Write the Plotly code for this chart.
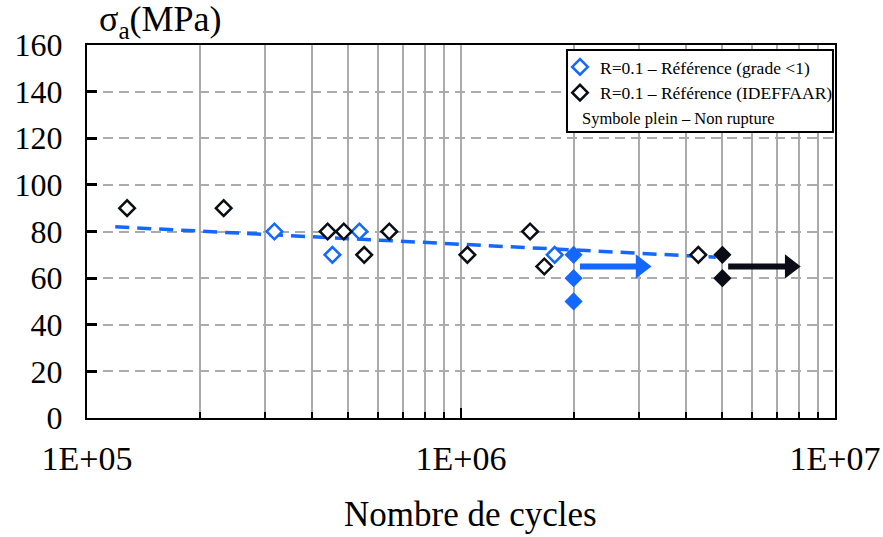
import plotly.graph_objects as go

# Fatigue results, R = 0.1 (number of cycles, stress amplitude in MPa)
grade_N = [3.17e5, 4.53e5, 5.35e5, 1.78e6]
grade_S = [80, 70, 80, 70]
grade_runout_N = [2.0e6, 2.0e6, 2.0e6]
grade_runout_S = [70, 60, 50]

idef_N = [1.28e5, 2.32e5, 4.40e5, 4.86e5, 5.51e5, 6.43e5, 1.04e6, 1.53e6, 1.67e6, 4.31e6]
idef_S = [90, 90, 80, 80, 70, 80, 70, 80, 65, 70]
idef_runout_N = [5.0e6, 5.0e6]
idef_runout_S = [70, 60]

# Trend line (end points)
fit_N = [1.19e5, 4.8e6]
fit_S = [82, 69]

# Run-out arrows: shaft start and arrow head
grade_arrow_N = [2.08e6, 3.03e6]
idef_arrow_N = [5.18e6, 7.59e6]
arrow_S = [65, 65]

x_tickvals = [1e5, 1e6, 1e7]
x_ticktext = ["1E+05", "1E+06", "1E+07"]
y_tickvals = [0, 20, 40, 60, 80, 100, 120, 140, 160]

BLUE = "#1467ff"
BLACK = "#0a0c16"
GRID = "#ababab"
SERIF = "Liberation Serif"

fig = go.Figure()

fig.add_trace(go.Scatter(
    x=fit_N, y=fit_S, mode="lines",
    line=dict(color=BLUE, width=3.5, dash="14px,8px"),
    showlegend=False, hoverinfo="skip"))

for arr_N, col in ((grade_arrow_N, BLUE), (idef_arrow_N, BLACK)):
    # shaft
    fig.add_trace(go.Scatter(
        x=arr_N, y=arrow_S, mode="lines",
        line=dict(color=col, width=6),
        showlegend=False, hoverinfo="skip"))
    # head
    fig.add_trace(go.Scatter(
        x=arr_N[1:], y=arrow_S[1:], mode="markers",
        marker=dict(symbol="triangle-right", size=21, color=col,
                    opacity=1, line=dict(width=0)),
        showlegend=False, hoverinfo="skip"))

fig.add_trace(go.Scatter(
    x=grade_N, y=grade_S, mode="markers",
    name="R=0.1 \u2013 R\u00e9f\u00e9rence (grade <1)",
    marker=dict(symbol="diamond", size=12, color="white",
                line=dict(color=BLUE, width=2.5)),
    legendgroup="a"))
fig.add_trace(go.Scatter(
    x=idef_N, y=idef_S, mode="markers",
    name="R=0.1 \u2013 R\u00e9f\u00e9rence (IDEFFAAR)",
    marker=dict(symbol="diamond", size=12, color="white",
                line=dict(color=BLACK, width=2.5)),
    legendgroup="b"))
fig.add_trace(go.Scatter(
    x=grade_runout_N, y=grade_runout_S, mode="markers",
    marker=dict(symbol="diamond", size=14, color=BLUE, line=dict(width=0)),
    showlegend=False))
fig.add_trace(go.Scatter(
    x=idef_runout_N, y=idef_runout_S, mode="markers",
    marker=dict(symbol="diamond", size=14, color=BLACK, line=dict(width=0)),
    showlegend=False))

fig.update_xaxes(
    type="log", range=[5, 7], automargin=False,
    tickvals=x_tickvals, ticktext=x_ticktext,
    ticks="inside", ticklen=10, tickwidth=2, tickcolor="black",
    tickfont=dict(family=SERIF, size=34, color="black"),
    ticklabelstandoff=9,
    showgrid=True, gridcolor=GRID, gridwidth=1.5,
    minor=dict(dtick="D1", ticks="inside", ticklen=6, tickwidth=2,
               tickcolor="black", showgrid=True, gridcolor=GRID, gridwidth=1.5),
    showline=True, linecolor="black", linewidth=2, mirror=True,
    zeroline=False)

fig.update_yaxes(
    range=[0, 160], tickvals=y_tickvals, automargin=False,
    ticks="inside", ticklen=10, tickwidth=2.5, tickcolor="black",
    tickfont=dict(family=SERIF, size=32, color="black"),
    ticklabelstandoff=16,
    showgrid=True, gridcolor=GRID, gridwidth=1.5, griddash="10px,6px",
    showline=True, linecolor="black", linewidth=2, mirror=True,
    zeroline=False)

# Legend frame
fig.add_shape(type="rect", xref="paper", yref="paper",
              x0=0.6417, x1=0.9973, y0=0.7668, y1=0.9866,
              line=dict(color="black", width=2), fillcolor="white", layer="above")

fig.add_annotation(
    xref="paper", yref="paper", x=0.6590, y=0.804,
    xanchor="left", yanchor="middle", showarrow=False,
    text="Symbole plein \u2013 Non rupture",
    font=dict(family=SERIF, size=16.5, color="black"))

# Axis titles
fig.add_annotation(
    xref="paper", yref="paper", x=0.0134, y=1.062,
    xanchor="left", yanchor="middle", showarrow=False,
    text="\u03c3<sub>a</sub>(MPa)",
    font=dict(family=SERIF, size=36, color="black"))

fig.add_annotation(
    xref="paper", yref="paper", x=(470 - 87) / 748, y=(418 - 514) / 373,
    xanchor="center", yanchor="middle", showarrow=False,
    text="Nombre de cycles",
    font=dict(family=SERIF, size=35, color="black"))

fig.update_layout(
    width=883, height=537,
    margin=dict(l=87, r=48, t=45, b=119, autoexpand=False),
    paper_bgcolor="white", plot_bgcolor="white",
    showlegend=True,
    legend=dict(x=(560 - 87) / 748, y=(418 - 49) / 373, xanchor="left", yanchor="top",
                bgcolor="rgba(0,0,0,0)", borderwidth=0,
                font=dict(family=SERIF, size=17.5, color="black"),
                traceorder="grouped", tracegroupgap=0),
)

fig.write_html("out.html")
